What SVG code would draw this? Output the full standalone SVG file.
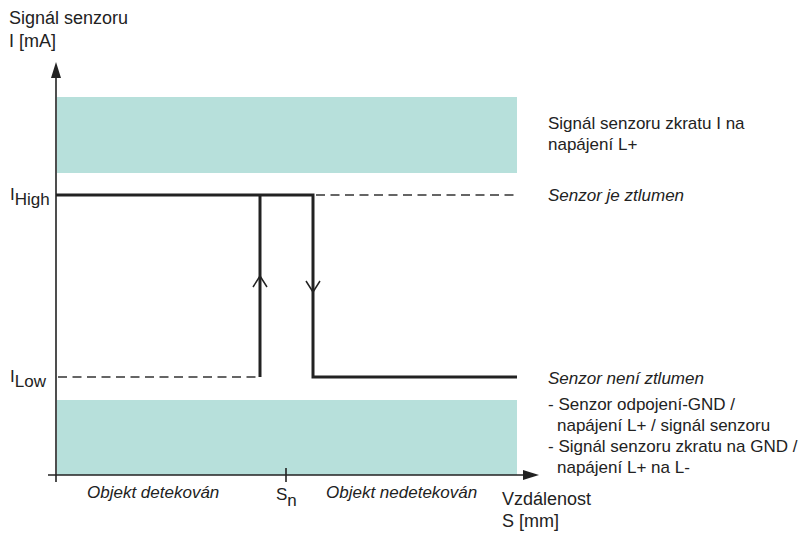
<svg xmlns="http://www.w3.org/2000/svg" width="802" height="535" viewBox="0 0 802 535">
<defs>
<style>
text{font-family:"Liberation Sans",Arial,sans-serif;font-size:17px;fill:#222}
.it{font-style:italic}
.big{font-size:18px}
.band{fill:#b7e0db}
.axis{stroke:#222;stroke-width:1.6;fill:none}
.sig{stroke:#222;stroke-width:3;fill:none}
.dash{stroke:#333;stroke-width:1.5;stroke-dasharray:9,5.5;fill:none}
</style>
</defs>
<rect width="802" height="535" fill="#fff"/>
<g id="bands">
<rect class="band" x="57" y="97" width="460" height="76"/>
<rect class="band" x="57" y="400" width="460" height="75"/>
</g>
<g id="axes">
<line class="axis" x1="56" y1="74" x2="56" y2="482"/>
<polygon points="56,62 51,78 61,78" fill="#222"/>
<line class="axis" x1="48" y1="475" x2="526" y2="475"/>
<polygon points="539,475 523,470 523,480" fill="#222"/>
<line class="axis" x1="286" y1="468" x2="286" y2="482"/>
</g>
<g id="connectors">
<line class="dash" x1="316" y1="195" x2="517" y2="195"/>
<line class="dash" x1="58" y1="377" x2="258" y2="377"/>
<polyline class="sig" points="56,195 313,195 313,377 517,377"/>
<polyline class="sig" points="260,195 260,377"/>
<polyline points="253,287 260,276 267,287" stroke="#222" stroke-width="1.5" fill="none"/>
<polyline points="306,281 313,292 320,281" stroke="#222" stroke-width="1.5" fill="none"/>
</g>
<g id="labels">
<text class="big" x="9" y="24">Signál senzoru</text>
<text class="big" x="9" y="47">I [mA]</text>
<text x="10" y="200">I<tspan dy="5">High</tspan></text>
<text x="10" y="382">I<tspan dy="5">Low</tspan></text>
<text class="it" x="87" y="498">Objekt detekován</text>
<text x="276" y="500">S<tspan dy="6">n</tspan></text>
<text class="it" x="326" y="498">Objekt nedetekován</text>
<text class="big" x="502" y="505">Vzdálenost</text>
<text class="big" x="502" y="527">S [mm]</text>
<text x="548" y="129">Signál senzoru zkratu I na</text>
<text x="548" y="150">napájení L+</text>
<text class="it" x="548" y="201">Senzor je ztlumen</text>
<text class="it" x="548" y="384">Senzor není ztlumen</text>
<text x="548" y="410">- Senzor odpojení-GND /</text>
<text x="557" y="431">napájení L+ / signál senzoru</text>
<text x="548" y="452">- Signál senzoru zkratu na GND /</text>
<text x="557" y="473">napájení L+ na L-</text>
</g>
</svg>
